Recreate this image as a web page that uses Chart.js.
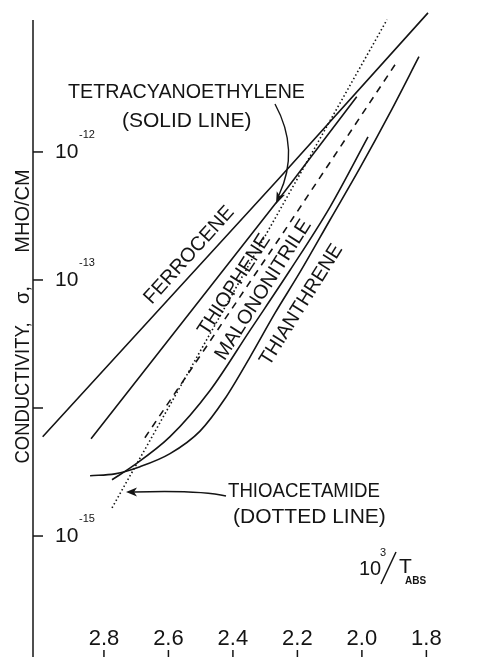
<!DOCTYPE html>
<html>
<head>
<meta charset="utf-8">
<script src="https://cdn.jsdelivr.net/npm/chart.js@4.4.1/dist/chart.umd.min.js"></script>
<style>
  html, body { margin: 0; padding: 0; background: #fff; overflow: hidden; }
  #wrap { width: 487px; height: 657px; }
</style>
</head>
<body>
<div id="wrap"><canvas id="myChart"></canvas></div>
<script>
// x = 10^3 / T_abs, y = conductivity in mho/cm
var ferroceneX = [2.99, 2.26, 1.795];
var ferroceneY = [5.97e-15, 6.1e-13, 1.22e-11];

var tcneX = [2.84, 2.26, 2.016];
var tcneY = [5.75e-15, 4.2e-13, 2.70e-12];

var thioacetamideX = [2.775, 2.35, 1.922];
var thioacetamideY = [1.66e-15, 1.32e-13, 1.08e-11];

var thiopheneX = [2.673, 2.245, 1.891];
var thiopheneY = [5.86e-15, 2.32e-13, 5.07e-12];

var malononitrileX = [2.775, 2.713, 2.595, 2.471, 2.347, 2.223, 2.099, 1.981];
var malononitrileY = [2.75e-15, 3.48e-15, 5.97e-15, 1.37e-14, 4.04e-14, 1.19e-13, 3.71e-13, 1.31e-12];

var thianthreneX = [2.843, 2.766, 2.688, 2.595, 2.502, 2.425, 2.347, 2.270, 2.192, 2.099, 2.006, 1.913, 1.823];
var thianthreneY = [2.96e-15, 3.06e-15, 3.48e-15, 4.40e-15, 6.60e-15, 1.18e-14, 2.50e-14, 5.48e-14, 1.15e-13, 2.94e-13, 7.50e-13, 2.02e-12, 5.55e-12];

// axis ticks
var xTicks = [2.8, 2.6, 2.4, 2.2, 2.0, 1.8];
var xTickLabels = ["2.8", "2.6", "2.4", "2.2", "2.0", "1.8"];
var yTickExp = [-12, -13, -14, -15];
var yTickLabels = ["-12", "-13", "", "-15"];

var FONT = '"Liberation Sans", Arial, sans-serif';
var INK = "#141414";

function pts(xs, ys) {
    return xs.map(function (x, i) { return { x: x, y: ys[i] }; });
}

function put(ctx, s, x, y, size, width, align) {
    ctx.font = size + "px " + FONT;
    ctx.textAlign = align || "left";
    ctx.textBaseline = "alphabetic";
    if (width) ctx.fillText(s, x, y, width); else ctx.fillText(s, x, y);
}

// rotated text centred on (cx, cy)
function putRot(ctx, s, cx, cy, size, deg, width) {
    ctx.save();
    ctx.translate(cx, cy);
    ctx.rotate(deg * Math.PI / 180);
    ctx.font = size + "px " + FONT;
    ctx.textAlign = "center";
    ctx.textBaseline = "alphabetic";
    if (width) ctx.fillText(s, 0, size * 0.36, width); else ctx.fillText(s, 0, size * 0.36);
    ctx.restore();
}

function arrowHead(ctx, tipX, tipY, fromX, fromY, len, half) {
    var dx = tipX - fromX, dy = tipY - fromY;
    var d = Math.sqrt(dx * dx + dy * dy);
    dx /= d; dy /= d;
    var bx = tipX - dx * len, by = tipY - dy * len;
    ctx.beginPath();
    ctx.moveTo(tipX, tipY);
    ctx.lineTo(bx - dy * half, by + dx * half);
    ctx.lineTo(bx + dx * 3, by + dy * 3);
    ctx.lineTo(bx + dy * half, by - dx * half);
    ctx.closePath();
    ctx.fill();
}

var decorations = {
    id: "decorations",
    beforeDraw: function (chart) {
        var ctx = chart.ctx;
        ctx.save();
        ctx.fillStyle = "#fff";
        ctx.fillRect(0, 0, chart.width, chart.height);
        ctx.restore();
    },
    afterDraw: function (chart) {
        var ctx = chart.ctx, xs = chart.scales.x, ys = chart.scales.y;
        var left = chart.chartArea.left;
        ctx.save();
        ctx.strokeStyle = INK;
        ctx.fillStyle = INK;
        ctx.lineWidth = 1.5;

        // y axis line
        ctx.beginPath();
        ctx.moveTo(left, 20);
        ctx.lineTo(left, 657);
        ctx.stroke();

        // y ticks and labels (inside the axis)
        yTickExp.forEach(function (e, i) {
            var py = ys.getPixelForValue(Math.pow(10, e));
            ctx.beginPath();
            ctx.moveTo(left, py);
            ctx.lineTo(left + 10, py);
            ctx.stroke();
            if (yTickLabels[i]) {
                put(ctx, "10", left + 22, py + 6, 21);
                put(ctx, yTickLabels[i], left + 46, py - 14, 11, 18);
            }
        });

        // x ticks and labels
        xTicks.forEach(function (v, i) {
            var px = xs.getPixelForValue(v);
            ctx.beginPath();
            ctx.moveTo(px, 650);
            ctx.lineTo(px, 657);
            ctx.stroke();
            put(ctx, xTickLabels[i], px, 645, 22, 32, "center");
        });

        // x title: 10^3 / T_ABS
        put(ctx, "10", 359, 575, 20);
        put(ctx, "3", 380, 556, 11);
        ctx.beginPath();
        ctx.moveTo(396, 552);
        ctx.lineTo(381, 584);
        ctx.stroke();
        put(ctx, "T", 399, 573, 21);
        ctx.font = "bold 10px " + FONT;
        ctx.fillText("ABS", 405, 584, 30);

        // y title
        putRot(ctx, "CONDUCTIVITY,", 22, 393, 20, -90, 141);
        putRot(ctx, "σ,", 22, 295, 20, -90, 22);
        putRot(ctx, "MHO/CM", 22, 211, 20, -90, 88);

        // curve labels
        putRot(ctx, "FERROCENE", 188, 254, 20, -48, 124);
        putRot(ctx, "THIOPHENE", 233, 284, 20, -57, 122);
        putRot(ctx, "MALONONITRILE", 262, 289, 20, -57.5, 162);
        putRot(ctx, "THIANTHRENE", 300, 304, 20, -58, 139);

        // tetracyanoethylene note and arrow
        put(ctx, "TETRACYANOETHYLENE", 68, 98, 21, 237);
        put(ctx, "(SOLID LINE)", 122, 127, 21, 140);
        ctx.lineWidth = 1.4;
        ctx.beginPath();
        ctx.moveTo(275, 104);
        ctx.quadraticCurveTo(300, 150, 279, 195);
        ctx.stroke();
        arrowHead(ctx, 276, 204, 284, 186, 12, 4.5);

        // thioacetamide note and arrow
        put(ctx, "THIOACETAMIDE", 228, 497, 21, 152);
        put(ctx, "(DOTTED LINE)", 233, 523, 21, 162);
        ctx.beginPath();
        ctx.moveTo(226, 496);
        ctx.quadraticCurveTo(200, 490, 134, 492);
        ctx.stroke();
        arrowHead(ctx, 126, 492, 140, 492, 11, 4.5);

        ctx.restore();
    }
};

function series(label, xs, ys, dash, smooth) {
    return {
        label: label,
        data: pts(xs, ys),
        showLine: true,
        borderColor: INK,
        borderWidth: 1.6,
        borderDash: dash || [],
        pointRadius: 0,
        cubicInterpolationMode: smooth ? "monotone" : "default",
        tension: 0,
        fill: false
    };
}

new Chart("myChart", {
    type: "scatter",
    data: {
        datasets: [
            series("Ferrocene", ferroceneX, ferroceneY),
            series("Tetracyanoethylene", tcneX, tcneY),
            series("Thioacetamide", thioacetamideX, thioacetamideY, [1.5, 2.5]),
            series("Thiophene", thiopheneX, thiopheneY, [7, 6]),
            series("Malononitrile", malononitrileX, malononitrileY, null, true),
            series("Thianthrene", thianthreneX, thianthreneY, null, true)
        ]
    },
    options: {
        responsive: true,
        maintainAspectRatio: false,
        animation: false,
        layout: { padding: { left: 33, top: 10, right: 0, bottom: 0 } },
        plugins: {
            legend: { display: false },
            tooltip: { enabled: false }
        },
        scales: {
            x: { type: "linear", reverse: true, min: 1.612, max: 3.02, display: false },
            y: { type: "logarithmic", min: 1.135e-16, max: 1.285e-11, display: false }
        }
    },
    plugins: [decorations]
});
</script>
</body>
</html>
